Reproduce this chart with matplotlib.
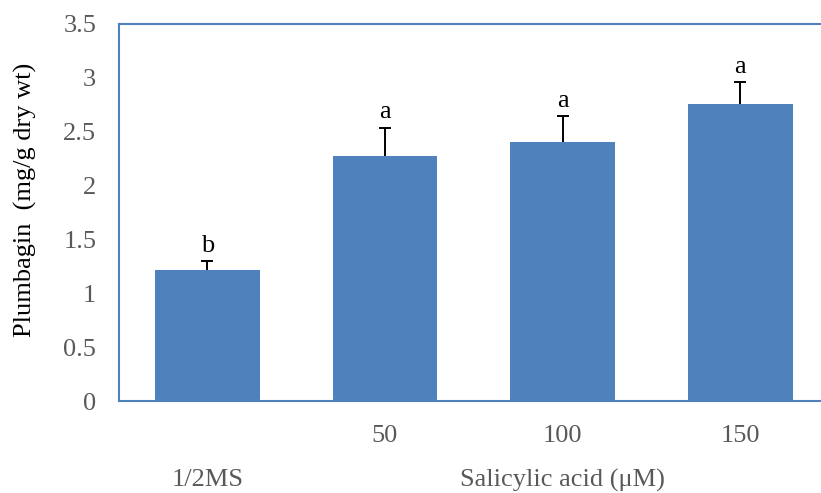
import matplotlib
matplotlib.use("Agg")
import matplotlib.pyplot as plt
import matplotlib.transforms as mtransforms

categories = ["1/2MS", "50", "100", "150"]
tick_labels = ["", "50", "100", "150"]
values = [1.215, 2.275, 2.40, 2.75]
errors = [0.085, 0.26, 0.245, 0.21]
letters = ["b", "a", "a", "a"]
group_labels = ["1/2MS", "Salicylic acid (\u03bcM)"]
group_positions = [0, 2]
yticks = [0, 0.5, 1, 1.5, 2, 2.5, 3, 3.5]
ytick_labels = ["0", "0.5", "1", "1.5", "2", "2.5", "3", "3.5"]

plt.rcParams['font.family'] = ['Liberation Serif', 'DejaVu Serif']

W, H = 821, 493
fig = plt.figure(figsize=(W / 100, H / 100), dpi=100)
left, right, top, bottom = 118.5, 829, 23.5, 401
ax = fig.add_axes([left / W, 1 - bottom / H, (right - left) / W, (bottom - top) / H])

blue = "#4F81BD"
gray = "#595959"
fs = 19
x = list(range(len(categories)))
ax.bar(x, values, width=0.59, color=blue, zorder=2)
_, caps, _ = ax.errorbar(x, values, yerr=[[0] * len(errors), errors], fmt="none",
                         ecolor="black", elinewidth=1.4, capsize=4.5, capthick=1.4, zorder=3)
# keep only the upper caps
if len(caps) == 2:
    caps[0].set_visible(False)
for xi, v, e, l in zip(x, values, errors, letters):
    ax.annotate(l, (xi, v + e), xytext=(0, 3), textcoords="offset points",
                ha="center", va="bottom", fontsize=fs, color="black")

ax.set_xlim(-0.5, len(categories) - 0.5)
ax.set_ylim(0, 3.5)
ax.set_yticks(yticks)
ax.set_yticklabels(ytick_labels)
ax.set_xticks(x)
ax.set_xticklabels(tick_labels)
ax.tick_params(axis="y", length=0, pad=16, labelsize=fs, labelcolor=gray)
ax.tick_params(axis="x", length=0, pad=17, labelsize=fs, labelcolor=gray)

for s in ["left", "top", "bottom", "right"]:
    ax.spines[s].set_color(blue)
    ax.spines[s].set_linewidth(1.5)

trans = mtransforms.blended_transform_factory(ax.transData, fig.transFigure)
for gl, gp in zip(group_labels, group_positions):
    ax.text(gp, 1 - 480 / H, gl, transform=trans, ha="center", va="center",
            fontsize=fs, color=gray)

fig.text(25 / W, 1 - 200 / H, "Plumbagin  (mg/g dry wt)", rotation=90,
         ha="center", va="center", fontsize=fs, color="black")

fig.savefig("out.png", dpi=100)
